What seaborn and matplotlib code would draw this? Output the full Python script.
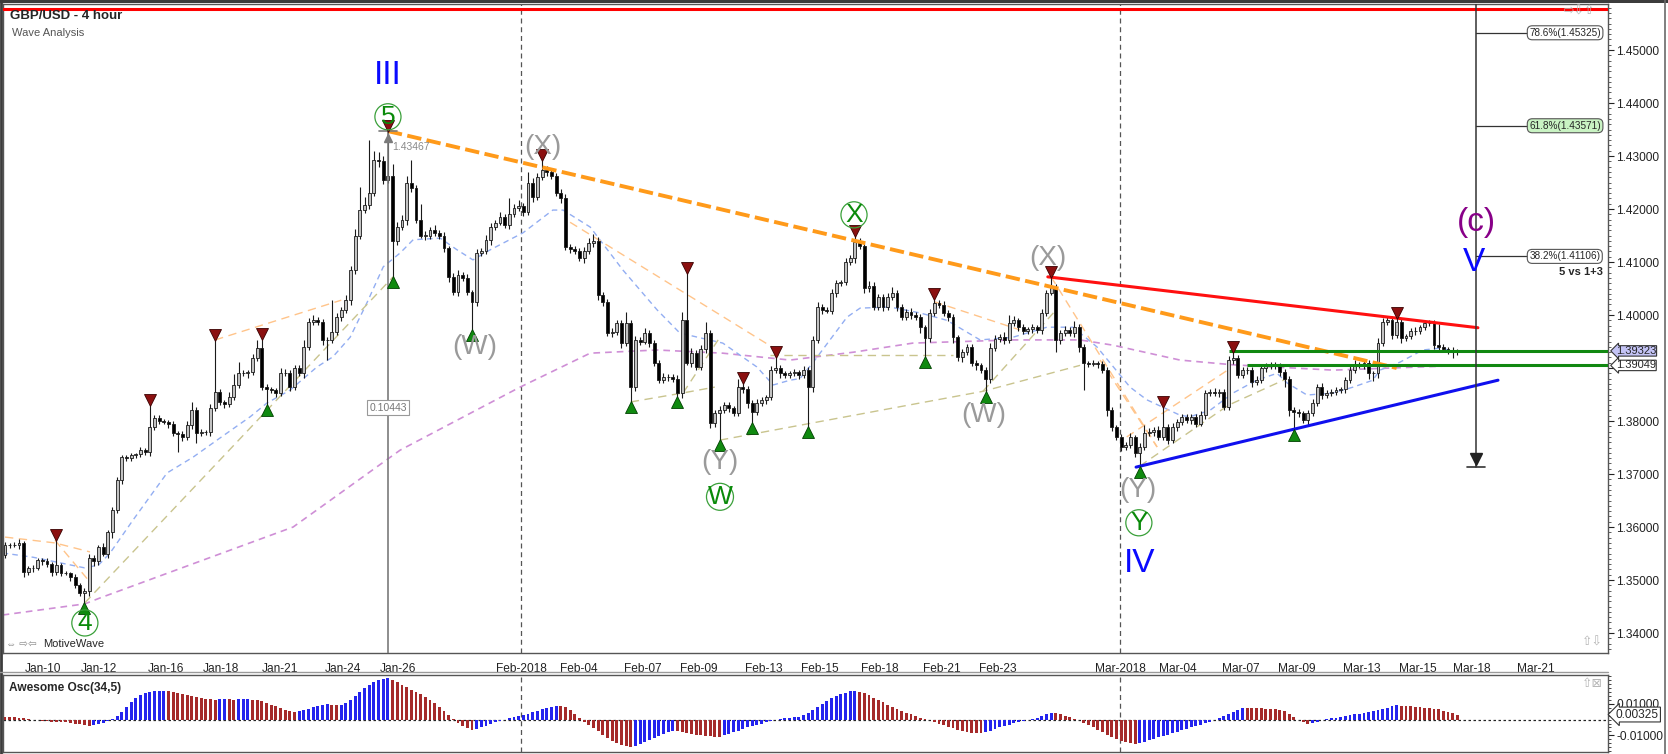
import numpy as np
import seaborn as sns
import matplotlib.pyplot as plt
from matplotlib.lines import Line2D
from matplotlib.patches import Rectangle
from matplotlib.ticker import MultipleLocator, FuncFormatter

sns.set_style("white")
plt.rcParams['font.family'] = ['Liberation Sans', 'DejaVu Sans']

W, H, DPI = 1668, 754, 100

# ---- 4 hour candles, prices in 1/10000 ----
first_open = 13547
close_p = [
    13566, 13566, 13566, 13570, 13515, 13523, 13523, 13538, 13535, 13530,
    13515, 13528, 13513, 13513, 13506, 13490, 13475, 13480, 13542, 13535,
    13562, 13550, 13590, 13632, 13689, 13732, 13730, 13735, 13737, 13745,
    13742, 13789, 13806, 13800, 13798, 13795, 13777, 13775, 13770, 13792,
    13821, 13777, 13779, 13779, 13825, 13855, 13835, 13832, 13845, 13868,
    13890, 13890, 13892, 13919, 13938, 13864, 13860, 13858, 13853, 13890,
    13890, 13864, 13900, 13890, 13940, 13987, 13990, 13987, 13953, 13953,
    13968, 13996, 14010, 14028, 14085, 14150, 14198, 14208, 14230, 14292,
    14290, 14255, 14262, 14140, 14166, 14180, 14250, 14240, 14180, 14150,
    14150, 14160, 14155, 14150, 14126, 14072, 14043, 14075, 14070, 14043,
    14025, 14117, 14120, 14141, 14166, 14174, 14185, 14170, 14190, 14202,
    14205, 14194, 14249, 14223, 14260, 14274, 14270, 14262, 14230, 14220,
    14128, 14125, 14120, 14107, 14120, 14135, 14140, 14038, 14025, 13966,
    13968, 13985, 13947, 13985, 13864, 13953, 13950, 13966, 13947, 13910,
    13877, 13883, 13883, 13880, 13853, 13990, 13910, 13928, 13902, 13935,
    13966, 13796, 13815, 13821, 13830, 13825, 13815, 13864, 13860, 13834,
    13817, 13834, 13840, 13845, 13896, 13900, 13890, 13887, 13890, 13892,
    13887, 13896, 13864, 13953, 14015, 14010, 14008, 14042, 14060, 14062,
    14100, 14107, 14138, 14130, 14051, 14055, 14015, 14034, 14015, 14034,
    14042, 14015, 13996, 14005, 14000, 13996, 13977, 13957, 14004, 14023,
    14018, 14004, 13996, 13958, 13920, 13930, 13940, 13910, 13905, 13896,
    13880, 13938, 13955, 13958, 13953, 13985, 13990, 13977, 13970, 13973,
    13977, 13972, 14004, 14042, 14053, 13953, 13966, 13972, 13966, 13977,
    13940, 13910, 13908, 13910, 13908, 13896, 13820, 13789, 13770, 13751,
    13755, 13770, 13740, 13751, 13777, 13780, 13783, 13770, 13789, 13764,
    13789, 13798, 13808, 13802, 13808, 13795, 13811, 13853, 13855, 13853,
    13855, 13826, 13915, 13918, 13887, 13896, 13896, 13874, 13877, 13900,
    13904, 13904, 13905, 13893, 13880, 13820, 13817, 13815, 13802, 13815,
    13834, 13864, 13850, 13853, 13855, 13858, 13860, 13877, 13896, 13906,
    13906, 13909, 13890, 13890, 13947, 13987, 13990, 13962, 13987, 13957,
    13960, 13970, 13970, 13977, 13985, 13985, 13943, 13940, 13936, 13934,
    13930, 13932,
]
wick_up = [
    5, 4, 6, 8, 3, 4, 5, 3, 4, 6,
    4, 47, 5, 4, 3, 6, 4, 5, 8, 6,
    5, 7, 4, 6, 5, 3, 4, 5, 3, 6,
    4, 41, 6, 5, 4, 3, 5, 4, 6, 8,
    15, 5, 6, 4, 8, 98, 6, 5, 10, 20,
    22, 6, 5, 8, 15, 17, 6, 5, 4, 10,
    8, 6, 5, 6, 12, 8, 10, 6, 5, 6,
    60, 8, 6, 10, 8, 12, 44, 15, 100, 18,
    15, 10, 85, 22, 10, 8, 12, 42, 6, 30,
    8, 6, 10, 5, 6, 4, 8, 10, 6, 8,
    5, 8, 6, 10, 8, 6, 10, 5, 30, 8,
    12, 6, 20, 10, 8, 18, 8, 6, 5, 8,
    8, 6, 5, 6, 8, 10, 12, 8, 6, 5,
    8, 6, 5, 20, 5, 8, 6, 10, 5, 6,
    5, 8, 6, 5, 6, 15, 89, 10, 6, 8,
    20, 5, 6, 8, 6, 5, 4, 15, 8, 6,
    5, 8, 6, 5, 8, 21, 6, 5, 4, 6,
    5, 8, 6, 8, 10, 6, 5, 8, 6, 5,
    8, 6, 12, 8, 6, 10, 8, 6, 5, 8,
    10, 6, 5, 6, 8, 5, 6, 4, 8, 7,
    6, 8, 5, 6, 4, 6, 5, 6, 5, 4,
    6, 10, 8, 6, 10, 15, 8, 5, 6, 5,
    6, 5, 8, 6, 19, 6, 5, 8, 6, 12,
    6, 5, 4, 5, 4, 6, 5, 6, 4, 5,
    6, 8, 4, 8, 15, 6, 5, 8, 37, 6,
    8, 6, 5, 6, 5, 6, 8, 6, 5, 8,
    6, 5, 8, 12, 6, 5, 6, 5, 8, 6,
    5, 8, 6, 5, 6, 4, 6, 5, 4, 6,
    8, 6, 8, 6, 5, 6, 5, 6, 8, 10,
    6, 5, 6, 5, 10, 8, 6, 8, 7, 6,
    5, 6, 8, 5, 6, 5, 5, 40, 6, 4,
    5, 3,
]
wick_dn = [
    6, 5, 4, 8, 10, 5, 8, 4, 6, 5,
    8, 5, 6, 4, 8, 6, 5, 18, 10, 8,
    6, 5, 8, 10, 6, 8, 5, 6, 4, 5,
    6, 8, 6, 5, 4, 8, 6, 33, 8, 6,
    8, 19, 6, 5, 8, 6, 5, 8, 6, 5,
    6, 5, 8, 6, 5, 6, 30, 5, 8, 6,
    5, 8, 6, 5, 8, 6, 5, 6, 10, 38,
    6, 5, 8, 6, 10, 8, 6, 5, 8, 6,
    10, 8, 6, 68, 8, 6, 10, 8, 6, 5,
    8, 6, 5, 6, 8, 10, 6, 8, 5, 6,
    53, 8, 6, 5, 8, 6, 5, 6, 8, 5,
    6, 8, 5, 10, 6, 5, 8, 6, 5, 8,
    6, 8, 5, 6, 8, 5, 6, 10, 8, 6,
    8, 5, 10, 6, 28, 8, 6, 5, 8, 6,
    6, 5, 8, 6, 8, 10, 5, 8, 6, 5,
    6, 10, 8, 51, 6, 8, 5, 6, 8, 10,
    21, 6, 5, 8, 6, 5, 8, 6, 5, 6,
    8, 6, 75, 10, 6, 8, 5, 6, 8, 6,
    6, 5, 8, 6, 10, 8, 6, 5, 8, 6,
    5, 8, 6, 5, 8, 6, 10, 36, 8, 6,
    5, 6, 8, 10, 6, 8, 5, 6, 8, 6,
    25, 8, 6, 5, 8, 6, 5, 8, 6, 5,
    6, 5, 8, 6, 5, 23, 8, 6, 5, 8,
    10, 52, 6, 5, 8, 6, 10, 8, 6, 8,
    6, 5, 8, 27, 6, 5, 8, 6, 5, 8,
    6, 8, 5, 6, 8, 6, 5, 8, 6, 5,
    8, 6, 5, 8, 6, 5, 8, 10, 6, 5,
    8, 6, 5, 8, 15, 10, 34, 8, 6, 10,
    6, 5, 8, 6, 5, 6, 5, 8, 6, 5,
    6, 8, 10, 15, 8, 6, 5, 8, 6, 10,
    6, 5, 8, 6, 5, 6, 8, 10, 6, 8,
    12, 5,
]
# Awesome oscillator (34,5), in 1/10000
ao_vals = [
    17, 15, 14, 12, 8, 3,
    -2, -5, -8, -10, -12, -14, -16, -18, -22, -26, -30, -35, -39,
    -36, -30, -22,
    -10, 5, 25, 50, 80, 110, 135, 155, 168, 175, 180, 182, 183,
    181, 178, 172, 165, 158, 150, 143, 138, 133, 130, 128,
    130, 131, 129, 127, 129, 130, 131, 128, 125, 118,
    108, 96, 84, 72, 62, 54, 47,
    52, 60, 70, 80, 88, 94, 97,
    95, 92, 94,
    105, 125, 150, 175, 200, 222, 240, 252, 258, 262,
    255, 240, 222, 205, 190, 175, 160, 145, 125, 105, 80, 55, 30, 5,
    -20, -40, -55, -65,
    -58, -48, -38, -28, -18, -8, 0, 8,
    15, 22, 30, 38, 48, 58, 68, 76, 82, 86,
    85, 78, 60, 35, 10,
    -15, -35, -55, -75, -95, -115, -135, -150, -160, -168, -172,
    -165, -155, -143, -130, -117, -104, -92, -80, -70,
    -75, -80, -85, -90, -95, -99, -103, -106, -109, -111,
    -100, -90, -80, -70, -60, -50, -42, -34, -26, -18, -10, -3, 5,
    8, 12, 15, 18,
    28, 42, 60, 80, 100, 118, 135, 150, 162, 172, 180, 184,
    178, 168, 155, 140, 125, 110, 95, 82, 70, 58, 45, 33, 22, 12, 3,
    -5, -15, -25, -35, -45, -55, -65, -72, -78, -82, -85, -87,
    -80, -70, -60, -50, -40, -32, -24, -16, -9, -3, 4, 11,
    25, 36, 43,
    40, 33, 25, 15, 6,
    -5, -20, -35, -50, -65, -80, -95, -110, -122, -133, -142, -150,
    -152,
    -148, -140, -131, -122, -113, -104, -95, -86, -77, -68, -59, -50, -41, -32, -23, -13, -4,
    8, 20, 35, 50, 63, 75,
    74, 73, 72, 71, 70, 69, 68, 64, 55,
    35, 15, -3, -15, -26,
    -20, -12, -5, 2, 8, 13, 18, 23, 28, 33, 38, 44, 50, 56, 63, 70, 77, 84, 90,
    88, 86, 84, 82, 80, 77, 74, 70, 65, 58, 48, 40, 32.5,
]

date_labels = ['Jan-10', 'Jan-12', 'Jan-16', 'Jan-18', 'Jan-21', 'Jan-24', 'Jan-26',
               'Feb-2018', 'Feb-04', 'Feb-07', 'Feb-09', 'Feb-13', 'Feb-15', 'Feb-18',
               'Feb-21', 'Feb-23', 'Mar-2018', 'Mar-04', 'Mar-07', 'Mar-09', 'Mar-13',
               'Mar-15', 'Mar-18', 'Mar-21']
date_pos = [8.1, 20.1, 34.5, 46.3, 58.9, 72.4, 84.2, 110.5, 122.9, 136.6, 148.6, 162.5,
            174.5, 187.4, 200.6, 212.6, 238.8, 251.2, 264.7, 276.6, 290.6, 302.6, 314.1, 327.8]

peak_idx = [11, 31, 45, 55, 82, 115, 146, 158, 165, 182, 199, 224, 248, 263, 298]
trough_idx = [17, 56, 83, 100, 134, 144, 153, 160, 172, 197, 210, 243, 276]

# moving averages
blue_ma_x = [-0.5, 6, 17, 20, 22.5, 27.4, 34.7, 40.3, 45.4, 52.5, 56.1, 61, 66.8, 70.2, 73.9,
             77.5, 81, 84.6, 87.4, 93.2, 96.8, 100.2, 103.9, 110.9, 117.3, 119.5, 125.3, 132.3,
             139.6, 144.5, 153.7, 161, 164.5, 168.1, 170.2, 173, 180.3, 183.1, 189.5, 195.9,
             201.7, 208.8, 215.8, 223.1, 228.7, 233.8, 240.9, 244.5, 251.6, 253.7, 258, 263,
             268, 272.4, 274.5, 278.8, 284.4, 288.7, 292.9, 294.4, 298.7, 303.6, 307.9, 310]
blue_ma_y = [13551, 13543, 13523, 13528, 13551, 13613, 13702, 13732, 13764, 13808, 13834, 13858,
             13902, 13921, 13958, 14023, 14091, 14117, 14142, 14145, 14123, 14104, 14123, 14155,
             14198, 14198, 14166, 14085, 14010, 13966, 13947, 13902, 13868, 13877, 13880, 13910,
             13996, 14013, 14015, 14004, 13990, 13953, 13958, 13977, 13977, 13940, 13864, 13840,
             13811, 13808, 13820, 13853, 13877, 13890, 13872, 13849, 13853, 13864, 13877, 13896,
             13911, 13934, 13938, 13930]
violet_ma_x = [-0.5, 17.1, 20.3, 61.7, 84.6, 110.3, 125.3, 139.6, 153.7, 168.1, 181.8, 194.4,
               215.8, 230.2, 237.3, 251.6, 263, 284.4, 309.4]
violet_ma_y = [13434, 13455, 13466, 13600, 13745, 13864, 13928, 13934, 13928, 13915, 13930,
               13947, 13953, 13953, 13943, 13915, 13906, 13896, 13904]

# thin swing lines
khaki_x = [[17.1, 83.1], [134, 145.2, 152], [145.2, 152.7], [153.1, 209.4, 230.2],
           [163.8, 203], [209.4, 224.5], [243, 262, 274.5]]
khaki_y = [[13457, 14072], [13836, 13853, 13864], [13853, 13953], [13764, 13856, 13905],
           [13925, 13925], [13856, 14004], [13715, 13830, 13880]]
orange_x = [[0, 10.7, 18.2], [10.7, 18.2], [45, 72], [121, 165.3], [199, 217.3],
            [224, 246.7], [240.2, 261.8], [234.5, 246.7]]
orange_y = [[13581, 13570, 13553], [13575, 13496], [13953, 14028], [14175, 13934],
            [14025, 13972], [14072, 13751], [13770, 13896], [13915, 13751]]

# drawn trend lines
wave_line_x, wave_line_y = [82, 298], [14347, 13900]
red_line_x, red_line_y = [223.3, 315.4], [14072, 13976]
blue_line_x, blue_line_y = [242.2, 319.7], [13713, 13877]
green_start = [262, 266]
green_level = [1.39323, 1.39049]
top_red_level = 1.45774

fib_x = 315.0
fib_low = 1.3713
fib_pct = ['78.6%', '61.8%', '38.2%']
fib_price = [1.45325, 1.43571, 1.41106]
measure_top, measure_bottom, measure_x = 1.43467, 1.33024, 82

wave_text = ['III', '5', '(X)', '(W)', '(Y)', 'W', 'X', '(X)', '(W)', '(Y)', 'Y', 'IV', '4', '(c)', 'V']
wave_x = [82, 82, 115.2, 100.6, 153.1, 153.1, 181.8, 223.3, 209.6, 242.6, 242.8, 243, 17.1, 315, 314.6]
wave_y = [1.4451, 1.4374, 1.4317, 1.3940, 1.3723, 1.3657, 1.4189, 1.4108, 1.3811, 1.3670,
          1.3608, 1.3532, 1.3419, 1.4175, 1.4100]
wave_kind = ['roman', 'circle', 'paren', 'paren', 'paren', 'circle', 'circle', 'paren', 'paren',
             'paren', 'circle', 'roman', 'circle', 'sub', 'roman']

# ---- derived candle values ----
c = np.array(close_p) / 1e4
o = np.r_[first_open, close_p[:-1]] / 1e4
hi = np.maximum(o, c) + np.array(wick_up) / 1e4
lo = np.minimum(o, c) - np.array(wick_dn) / 1e4
idx = np.arange(len(c))
ao = np.array(ao_vals) / 1e4


def fx(px):
    return px / W


def fy(py):
    return 1 - py / H


fig = plt.figure(figsize=(W / DPI, H / DPI), dpi=DPI)
fig.patch.set_facecolor('white')
ax = fig.add_axes([fx(3), fy(653), fx(1608) - fx(3), fy(4) - fy(653)])
ao_ax = fig.add_axes([fx(3), fy(752), fx(1608) - fx(3), fy(675) - fy(752)], sharex=ax)

PX = 1 / 5300  # price per pixel

# moving averages and swing lines
sns.lineplot(x=violet_ma_x, y=np.array(violet_ma_y) / 1e4, ax=ax, color='#cf8fd6', lw=1.2,
             linestyle=(0, (4, 3)), sort=False, estimator=None, zorder=1)
sns.lineplot(x=blue_ma_x, y=np.array(blue_ma_y) / 1e4, ax=ax, color='#93aef2', lw=1.0,
             linestyle=(0, (4, 3)), sort=False, estimator=None, zorder=1)
for xs, ys in zip(khaki_x, khaki_y):
    sns.lineplot(x=xs, y=np.array(ys) / 1e4, ax=ax, color='#c9c48e', lw=1.0,
                 linestyle=(0, (6, 4)), sort=False, estimator=None, zorder=1)
for xs, ys in zip(orange_x, orange_y):
    sns.lineplot(x=xs, y=np.array(ys) / 1e4, ax=ax, color='#ffc48a', lw=1.0,
                 linestyle=(0, (6, 4)), sort=False, estimator=None, zorder=1)

# candles
up = c >= o
ax.vlines(idx, lo, hi, color='#1a1a1a', lw=0.8, zorder=3)
ax.bar(idx, np.maximum(np.abs(c - o), 0.00005), bottom=np.minimum(o, c), width=0.62,
       color=np.where(up, '#c2c2c2', '#000000'), edgecolor='#1a1a1a', linewidth=0.6, zorder=4)

# swing markers
ax.plot(idx[peak_idx], hi[peak_idx] + 5 * PX, linestyle='none', marker='v', ms=8,
        mfc='#8b1010', mec='#3a0000', mew=0.6, zorder=6)
ax.plot(idx[trough_idx], lo[trough_idx] - 5 * PX, linestyle='none', marker='^', ms=8,
        mfc='#108a10', mec='#004000', mew=0.6, zorder=6)

# trend lines
ax.axhline(top_red_level, color='#ff0000', lw=2.2, zorder=5)
sns.lineplot(x=wave_line_x, y=np.array(wave_line_y) / 1e4, ax=ax, color='#ff9a1a', lw=2.8,
             linestyle=(0, (3.7, 1.4)), sort=False, estimator=None, zorder=5)
sns.lineplot(x=red_line_x, y=np.array(red_line_y) / 1e4, ax=ax, color='#ff1010', lw=2.2,
             sort=False, estimator=None, zorder=5)
sns.lineplot(x=blue_line_x, y=np.array(blue_line_y) / 1e4, ax=ax, color='#1010ee', lw=2.2,
             sort=False, estimator=None, zorder=5)
x_right = (1608 - 5) / 4.67
for xs, lvl in zip(green_start, green_level):
    ax.plot([xs, x_right], [lvl, lvl], color='#118811', lw=2.2, zorder=5, solid_capstyle='butt')

# separators
for lab in ('Feb-2018', 'Mar-2018'):
    p = date_pos[date_labels.index(lab)]
    for a in (ax, ao_ax):
        a.axvline(p, color='#555555', lw=0.9, linestyle=(0, (4, 3)), zorder=0.5)

# measure tool at wave 5
ax.plot([measure_x, measure_x], [measure_bottom, measure_top], color='#7a7a7a', lw=1.2, zorder=5)
ax.plot([measure_x - 2, measure_x + 2], [measure_top, measure_top], color='#7a7a7a', lw=1.2, zorder=5)
ax.plot([measure_x], [measure_top - 7 * PX], marker='^', ms=6, color='#7a7a7a', zorder=5)
ax.text(measure_x + 1, measure_top - 16 * PX, f'{measure_top:.5f}', fontsize=7.5, color='#8a8a8a',
        ha='left', va='center', zorder=5)
ax.text(measure_x, 1.3825, f'{measure_top - measure_bottom:.5f}', fontsize=7.5, color='#777777',
        ha='center', va='center', zorder=7,
        bbox=dict(boxstyle='square,pad=0.25', fc='white', ec='#999999', lw=0.8))

# fib projection tool
fib_top = 1.4600
ax.plot([fib_x, fib_x], [fib_low, fib_top], color='#333333', lw=1.1, zorder=6)
ax.plot([fib_x - 1.9, fib_x + 1.9], [fib_low, fib_low], color='#333333', lw=1.2, zorder=6)
ax.plot([fib_x], [fib_low + 8 * PX], marker='v', ms=8, color='#222222', zorder=6)
for pct, lvl in zip(fib_pct, fib_price):
    ax.plot([fib_x, 326.2], [lvl, lvl], color='#333333', lw=0.9, zorder=6)
    face = '#c9f3c3' if pct == '61.8%' else 'white'
    ax.text(326.4, lvl, f'{pct}({lvl:.5f})', fontsize=7.2, ha='left', va='center', zorder=7,
            bbox=dict(boxstyle='round,pad=0.2,rounding_size=0.5', fc=face, ec='#555555', lw=0.8))
ax.text(342.2, 1.4081, '5 vs 1+3', fontsize=8, fontweight='bold', ha='right', va='center')

# wave labels
style = {
    'roman': dict(color='#0a0aff', fontsize=24),
    'paren': dict(color='#9a9a9a', fontsize=20),
    'circle': dict(color='#0a8a0a', fontsize=19),
    'sub': dict(color='#880088', fontsize=24),
}
for t, x, y, k in zip(wave_text, wave_x, wave_y, wave_kind):
    kw = dict(style[k])
    if k == 'circle':
        kw['bbox'] = dict(boxstyle='circle,pad=0.04', fc='none', ec='#3aa03a', lw=0.9)
    ax.text(x, y, t, ha='center', va='center', zorder=8, **kw)


def price_fmt(v, p):
    # the 1.39000 label sits under the price tags on the original chart
    return '' if abs(v - 1.39) < 1e-6 else f'{v:.5f}'


# main axis format
ax.set_xlim(-0.43, x_right)
ax.set_ylim(1.33623, 1.45868)
ax.yaxis.tick_right()
ax.yaxis.set_major_locator(MultipleLocator(0.01))
ax.yaxis.set_minor_locator(MultipleLocator(0.001))
ax.yaxis.set_major_formatter(FuncFormatter(price_fmt))
ax.tick_params(axis='y', which='major', length=4, width=0.8, labelsize=8.6, pad=2, direction='out',
               colors='#222222')
ax.tick_params(axis='y', which='minor', length=2, width=0.6, direction='out', colors='#444444')
ax.set_xticks(date_pos)
ax.set_xticklabels(date_labels)
ax.tick_params(axis='x', length=4, width=0.8, labelsize=8.6, pad=3, direction='out', colors='#222222')
ax.set_xlabel('')
ax.set_ylabel('')
for s in ax.spines.values():
    s.set_color('#555555')
    s.set_linewidth(1.0)

# oscillator
rising = np.r_[False, np.diff(ao) > 0]
ao_ax.bar(idx, ao, width=0.62, color=np.where(rising, '#2424ee', '#a52a2a'), linewidth=0, zorder=3)
ao_ax.axhline(0, color='#222222', lw=0.9, linestyle=(0, (2, 2)), zorder=2)
ao_ax.set_ylim(-0.0206, 0.0284)
ao_ax.yaxis.tick_right()
ao_ax.set_yticks([-0.01, 0.01])
ao_ax.yaxis.set_minor_locator(MultipleLocator(0.0025))
ao_ax.yaxis.set_major_formatter(FuncFormatter(lambda v, p: f'{v:.5f}'))
ao_ax.tick_params(axis='y', which='major', length=4, width=0.8, labelsize=8.6, pad=2, colors='#222222')
ao_ax.tick_params(axis='y', which='minor', length=2, width=0.6)
ao_ax.tick_params(axis='x', which='both', bottom=False, labelbottom=False)
ao_ax.set_xlabel('')
ao_ax.set_ylabel('')
for s in ao_ax.spines.values():
    s.set_color('#555555')
    s.set_linewidth(1.0)


def tag(axis, value, text, face, size=8.6, pad=0.12):
    axis.text(1.0 + 8 / 1605, value, text, transform=axis.get_yaxis_transform(), ha='left',
              va='center', fontsize=size, zorder=9, clip_on=False,
              bbox=dict(boxstyle=f'larrow,pad={pad}', fc=face, ec='#333333', lw=0.8))


tag(ax, green_level[1], f'{green_level[1]:.5f}', 'white', size=8.0, pad=0.02)
tag(ax, green_level[0], f'{green_level[0]:.5f}', '#c4c4f6', size=8.0, pad=0.02)
tag(ao_ax, ao[-1], f'{ao[-1]:.5f}', 'white')

# frame and captions
fig.add_artist(Rectangle((0, fy(3)), 1, 3 / H, transform=fig.transFigure, color='#3c3c3c', lw=0))
fig.add_artist(Line2D([fx(1), fx(1)], [0, 1], color='#3c3c3c', lw=2))
fig.add_artist(Line2D([fx(1665), fx(1665)], [0, 1], color='#6a6a6a', lw=1.2))
fig.add_artist(Line2D([0, fx(1608)], [fy(672), fy(672)], color='#9a9a9a', lw=1.0))
fig.text(fx(10), fy(16), 'GBP/USD - 4 hour', fontsize=9.5, fontweight='bold', va='center')
fig.text(fx(12), fy(33), 'Wave Analysis', fontsize=8, color='#555555', va='center')
fig.text(fx(6), fy(644), '⇔ ⇨⇦', fontsize=7.5, color='#8a8a8a', va='center')
fig.text(fx(43), fy(644), 'MotiveWave', fontsize=8, va='center')
fig.text(fx(9), fy(688), 'Awesome Osc(34,5)', fontsize=8.6, fontweight='bold', va='center')
fig.text(fx(1564), fy(12), '⇨⇩⇧', fontsize=9, color='#b5b5b5', va='center')
fig.text(fx(1582), fy(643), '⇧⇩', fontsize=9, color='#b5b5b5', va='center')
fig.text(fx(1582), fy(684), '⇧⊠', fontsize=9, color='#b5b5b5', va='center')

fig.savefig('out.png', dpi=DPI)
